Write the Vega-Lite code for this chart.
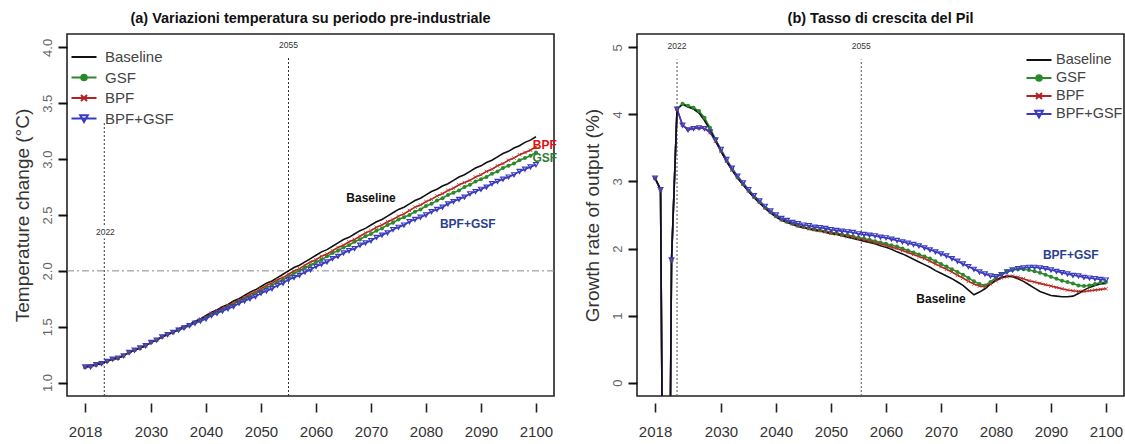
{
  "$schema": "https://vega.github.io/schema/vega-lite/v6.json",
  "padding": {"left": 12, "top": 9, "right": 0, "bottom": 0},
  "spacing": 24,
  "background": "white",
  "config": {
    "view": {"stroke": "#222", "strokeWidth": 1.6},
    "title": {"font": "Liberation Sans, sans-serif", "fontSize": 14.5, "fontWeight": "bold", "color": "#111", "offset": 8, "anchor": "middle"},
    "axisX": {"domain": false, "grid": false, "tickSize": 9, "tickWidth": 1.6, "tickColor": "#222", "offset": 7, "labelFont": "Liberation Sans, sans-serif", "labelFontSize": 15, "labelColor": "#333", "labelPadding": 12, "title": null, "labelFlush": false, "labelOverlap": false},
    "axisY": {"domain": false, "grid": false, "tickSize": 9, "tickWidth": 2, "tickColor": "#111", "labelAngle": -90, "labelFont": "Liberation Sans, sans-serif", "labelFontSize": 13, "labelColor": "#666", "labelPadding": 4, "titleFont": "Liberation Sans, sans-serif", "titleFontSize": 19, "titleFontWeight": "normal", "titleColor": "#333", "titlePadding": 9, "labelFlush": false, "labelOverlap": false}
  },
  "datasets": {
    "temp": [
      {"year":2018,"Baseline":1.14,"GSF":1.14,"BPF":1.14,"BPF+GSF":1.14},
      {"year":2019,"Baseline":1.15,"GSF":1.15,"BPF":1.15,"BPF+GSF":1.14},
      {"year":2020,"Baseline":1.16,"GSF":1.16,"BPF":1.16,"BPF+GSF":1.16},
      {"year":2021,"Baseline":1.17,"GSF":1.17,"BPF":1.17,"BPF+GSF":1.17},
      {"year":2022,"Baseline":1.19,"GSF":1.19,"BPF":1.19,"BPF+GSF":1.19},
      {"year":2023,"Baseline":1.21,"GSF":1.21,"BPF":1.21,"BPF+GSF":1.21},
      {"year":2024,"Baseline":1.22,"GSF":1.22,"BPF":1.22,"BPF+GSF":1.22},
      {"year":2025,"Baseline":1.24,"GSF":1.24,"BPF":1.24,"BPF+GSF":1.24},
      {"year":2026,"Baseline":1.27,"GSF":1.27,"BPF":1.27,"BPF+GSF":1.27},
      {"year":2027,"Baseline":1.29,"GSF":1.29,"BPF":1.29,"BPF+GSF":1.29},
      {"year":2028,"Baseline":1.31,"GSF":1.31,"BPF":1.31,"BPF+GSF":1.31},
      {"year":2029,"Baseline":1.33,"GSF":1.33,"BPF":1.33,"BPF+GSF":1.33},
      {"year":2030,"Baseline":1.36,"GSF":1.36,"BPF":1.36,"BPF+GSF":1.36},
      {"year":2031,"Baseline":1.38,"GSF":1.38,"BPF":1.38,"BPF+GSF":1.38},
      {"year":2032,"Baseline":1.41,"GSF":1.41,"BPF":1.41,"BPF+GSF":1.41},
      {"year":2033,"Baseline":1.43,"GSF":1.43,"BPF":1.43,"BPF+GSF":1.43},
      {"year":2034,"Baseline":1.45,"GSF":1.45,"BPF":1.45,"BPF+GSF":1.45},
      {"year":2035,"Baseline":1.48,"GSF":1.47,"BPF":1.48,"BPF+GSF":1.47},
      {"year":2036,"Baseline":1.50,"GSF":1.49,"BPF":1.50,"BPF+GSF":1.49},
      {"year":2037,"Baseline":1.52,"GSF":1.51,"BPF":1.52,"BPF+GSF":1.51},
      {"year":2038,"Baseline":1.55,"GSF":1.54,"BPF":1.54,"BPF+GSF":1.53},
      {"year":2039,"Baseline":1.57,"GSF":1.56,"BPF":1.57,"BPF+GSF":1.55},
      {"year":2040,"Baseline":1.60,"GSF":1.58,"BPF":1.59,"BPF+GSF":1.57},
      {"year":2041,"Baseline":1.63,"GSF":1.61,"BPF":1.62,"BPF+GSF":1.60},
      {"year":2042,"Baseline":1.65,"GSF":1.63,"BPF":1.64,"BPF+GSF":1.62},
      {"year":2043,"Baseline":1.68,"GSF":1.65,"BPF":1.67,"BPF+GSF":1.64},
      {"year":2044,"Baseline":1.70,"GSF":1.68,"BPF":1.69,"BPF+GSF":1.66},
      {"year":2045,"Baseline":1.73,"GSF":1.70,"BPF":1.71,"BPF+GSF":1.68},
      {"year":2046,"Baseline":1.75,"GSF":1.73,"BPF":1.74,"BPF+GSF":1.71},
      {"year":2047,"Baseline":1.78,"GSF":1.75,"BPF":1.76,"BPF+GSF":1.73},
      {"year":2048,"Baseline":1.81,"GSF":1.77,"BPF":1.79,"BPF+GSF":1.75},
      {"year":2049,"Baseline":1.83,"GSF":1.80,"BPF":1.81,"BPF+GSF":1.77},
      {"year":2050,"Baseline":1.86,"GSF":1.82,"BPF":1.84,"BPF+GSF":1.80},
      {"year":2051,"Baseline":1.89,"GSF":1.85,"BPF":1.87,"BPF+GSF":1.82},
      {"year":2052,"Baseline":1.91,"GSF":1.87,"BPF":1.89,"BPF+GSF":1.84},
      {"year":2053,"Baseline":1.94,"GSF":1.90,"BPF":1.92,"BPF+GSF":1.87},
      {"year":2054,"Baseline":1.97,"GSF":1.92,"BPF":1.94,"BPF+GSF":1.89},
      {"year":2055,"Baseline":2.00,"GSF":1.95,"BPF":1.97,"BPF+GSF":1.92},
      {"year":2056,"Baseline":2.03,"GSF":1.98,"BPF":2.00,"BPF+GSF":1.94},
      {"year":2057,"Baseline":2.05,"GSF":2.00,"BPF":2.02,"BPF+GSF":1.96},
      {"year":2058,"Baseline":2.08,"GSF":2.03,"BPF":2.05,"BPF+GSF":1.99},
      {"year":2059,"Baseline":2.11,"GSF":2.05,"BPF":2.08,"BPF+GSF":2.01},
      {"year":2060,"Baseline":2.14,"GSF":2.08,"BPF":2.10,"BPF+GSF":2.04},
      {"year":2061,"Baseline":2.17,"GSF":2.10,"BPF":2.13,"BPF+GSF":2.06},
      {"year":2062,"Baseline":2.19,"GSF":2.13,"BPF":2.15,"BPF+GSF":2.08},
      {"year":2063,"Baseline":2.22,"GSF":2.16,"BPF":2.18,"BPF+GSF":2.11},
      {"year":2064,"Baseline":2.25,"GSF":2.18,"BPF":2.21,"BPF+GSF":2.13},
      {"year":2065,"Baseline":2.28,"GSF":2.21,"BPF":2.23,"BPF+GSF":2.16},
      {"year":2066,"Baseline":2.30,"GSF":2.23,"BPF":2.26,"BPF+GSF":2.18},
      {"year":2067,"Baseline":2.33,"GSF":2.26,"BPF":2.28,"BPF+GSF":2.20},
      {"year":2068,"Baseline":2.36,"GSF":2.28,"BPF":2.31,"BPF+GSF":2.23},
      {"year":2069,"Baseline":2.38,"GSF":2.31,"BPF":2.34,"BPF+GSF":2.25},
      {"year":2070,"Baseline":2.41,"GSF":2.33,"BPF":2.36,"BPF+GSF":2.27},
      {"year":2071,"Baseline":2.44,"GSF":2.36,"BPF":2.39,"BPF+GSF":2.30},
      {"year":2072,"Baseline":2.46,"GSF":2.38,"BPF":2.41,"BPF+GSF":2.32},
      {"year":2073,"Baseline":2.49,"GSF":2.41,"BPF":2.44,"BPF+GSF":2.34},
      {"year":2074,"Baseline":2.52,"GSF":2.43,"BPF":2.46,"BPF+GSF":2.37},
      {"year":2075,"Baseline":2.55,"GSF":2.46,"BPF":2.49,"BPF+GSF":2.39},
      {"year":2076,"Baseline":2.57,"GSF":2.48,"BPF":2.51,"BPF+GSF":2.41},
      {"year":2077,"Baseline":2.60,"GSF":2.50,"BPF":2.54,"BPF+GSF":2.44},
      {"year":2078,"Baseline":2.63,"GSF":2.53,"BPF":2.57,"BPF+GSF":2.46},
      {"year":2079,"Baseline":2.65,"GSF":2.55,"BPF":2.59,"BPF+GSF":2.48},
      {"year":2080,"Baseline":2.68,"GSF":2.58,"BPF":2.62,"BPF+GSF":2.50},
      {"year":2081,"Baseline":2.71,"GSF":2.60,"BPF":2.64,"BPF+GSF":2.53},
      {"year":2082,"Baseline":2.73,"GSF":2.63,"BPF":2.67,"BPF+GSF":2.55},
      {"year":2083,"Baseline":2.76,"GSF":2.65,"BPF":2.69,"BPF+GSF":2.57},
      {"year":2084,"Baseline":2.78,"GSF":2.68,"BPF":2.72,"BPF+GSF":2.60},
      {"year":2085,"Baseline":2.81,"GSF":2.70,"BPF":2.74,"BPF+GSF":2.62},
      {"year":2086,"Baseline":2.84,"GSF":2.72,"BPF":2.77,"BPF+GSF":2.64},
      {"year":2087,"Baseline":2.86,"GSF":2.75,"BPF":2.79,"BPF+GSF":2.66},
      {"year":2088,"Baseline":2.89,"GSF":2.77,"BPF":2.81,"BPF+GSF":2.69},
      {"year":2089,"Baseline":2.92,"GSF":2.80,"BPF":2.84,"BPF+GSF":2.71},
      {"year":2090,"Baseline":2.94,"GSF":2.82,"BPF":2.86,"BPF+GSF":2.73},
      {"year":2091,"Baseline":2.97,"GSF":2.84,"BPF":2.89,"BPF+GSF":2.75},
      {"year":2092,"Baseline":2.99,"GSF":2.87,"BPF":2.91,"BPF+GSF":2.78},
      {"year":2093,"Baseline":3.02,"GSF":2.89,"BPF":2.94,"BPF+GSF":2.80},
      {"year":2094,"Baseline":3.05,"GSF":2.92,"BPF":2.96,"BPF+GSF":2.82},
      {"year":2095,"Baseline":3.07,"GSF":2.94,"BPF":2.99,"BPF+GSF":2.84},
      {"year":2096,"Baseline":3.10,"GSF":2.96,"BPF":3.01,"BPF+GSF":2.86},
      {"year":2097,"Baseline":3.12,"GSF":2.99,"BPF":3.04,"BPF+GSF":2.89},
      {"year":2098,"Baseline":3.15,"GSF":3.01,"BPF":3.06,"BPF+GSF":2.91},
      {"year":2099,"Baseline":3.17,"GSF":3.03,"BPF":3.08,"BPF+GSF":2.93},
      {"year":2100,"Baseline":3.20,"GSF":3.06,"BPF":3.11,"BPF+GSF":2.95}
    ],
    "gdp": [
      {"year":2018,"Baseline":3.05,"GSF":3.05,"BPF":3.05,"BPF+GSF":3.05},
      {"year":2019,"Baseline":2.88,"GSF":2.88,"BPF":2.88,"BPF+GSF":2.88},
      {"year":2020,"Baseline":-8.9,"GSF":-8.9,"BPF":-8.9,"BPF+GSF":-8.9},
      {"year":2021,"Baseline":1.83,"GSF":1.83,"BPF":1.83,"BPF+GSF":1.83},
      {"year":2022,"Baseline":4.08,"GSF":4.08,"BPF":4.08,"BPF+GSF":4.08},
      {"year":2023,"Baseline":4.15,"GSF":4.16,"BPF":3.84,"BPF+GSF":3.84},
      {"year":2024,"Baseline":4.11,"GSF":4.13,"BPF":3.78,"BPF+GSF":3.77},
      {"year":2025,"Baseline":4.08,"GSF":4.10,"BPF":3.79,"BPF+GSF":3.79},
      {"year":2026,"Baseline":4.02,"GSF":4.05,"BPF":3.80,"BPF+GSF":3.80},
      {"year":2027,"Baseline":3.91,"GSF":3.95,"BPF":3.79,"BPF+GSF":3.79},
      {"year":2028,"Baseline":3.77,"GSF":3.80,"BPF":3.73,"BPF+GSF":3.74},
      {"year":2029,"Baseline":3.61,"GSF":3.63,"BPF":3.60,"BPF+GSF":3.62},
      {"year":2030,"Baseline":3.45,"GSF":3.46,"BPF":3.45,"BPF+GSF":3.48},
      {"year":2031,"Baseline":3.30,"GSF":3.31,"BPF":3.30,"BPF+GSF":3.33},
      {"year":2032,"Baseline":3.17,"GSF":3.18,"BPF":3.17,"BPF+GSF":3.20},
      {"year":2033,"Baseline":3.05,"GSF":3.06,"BPF":3.06,"BPF+GSF":3.08},
      {"year":2034,"Baseline":2.95,"GSF":2.96,"BPF":2.96,"BPF+GSF":2.98},
      {"year":2035,"Baseline":2.85,"GSF":2.86,"BPF":2.86,"BPF+GSF":2.88},
      {"year":2036,"Baseline":2.76,"GSF":2.77,"BPF":2.77,"BPF+GSF":2.79},
      {"year":2037,"Baseline":2.68,"GSF":2.69,"BPF":2.69,"BPF+GSF":2.71},
      {"year":2038,"Baseline":2.60,"GSF":2.61,"BPF":2.61,"BPF+GSF":2.63},
      {"year":2039,"Baseline":2.53,"GSF":2.54,"BPF":2.54,"BPF+GSF":2.56},
      {"year":2040,"Baseline":2.47,"GSF":2.48,"BPF":2.48,"BPF+GSF":2.50},
      {"year":2041,"Baseline":2.42,"GSF":2.43,"BPF":2.43,"BPF+GSF":2.45},
      {"year":2042,"Baseline":2.39,"GSF":2.40,"BPF":2.40,"BPF+GSF":2.42},
      {"year":2043,"Baseline":2.36,"GSF":2.37,"BPF":2.37,"BPF+GSF":2.39},
      {"year":2044,"Baseline":2.33,"GSF":2.34,"BPF":2.34,"BPF+GSF":2.37},
      {"year":2045,"Baseline":2.31,"GSF":2.32,"BPF":2.32,"BPF+GSF":2.35},
      {"year":2046,"Baseline":2.29,"GSF":2.30,"BPF":2.30,"BPF+GSF":2.34},
      {"year":2047,"Baseline":2.27,"GSF":2.29,"BPF":2.28,"BPF+GSF":2.32},
      {"year":2048,"Baseline":2.26,"GSF":2.27,"BPF":2.27,"BPF+GSF":2.31},
      {"year":2049,"Baseline":2.24,"GSF":2.26,"BPF":2.25,"BPF+GSF":2.30},
      {"year":2050,"Baseline":2.22,"GSF":2.24,"BPF":2.23,"BPF+GSF":2.28},
      {"year":2051,"Baseline":2.21,"GSF":2.23,"BPF":2.22,"BPF+GSF":2.27},
      {"year":2052,"Baseline":2.19,"GSF":2.21,"BPF":2.20,"BPF+GSF":2.26},
      {"year":2053,"Baseline":2.17,"GSF":2.20,"BPF":2.18,"BPF+GSF":2.25},
      {"year":2054,"Baseline":2.15,"GSF":2.18,"BPF":2.17,"BPF+GSF":2.24},
      {"year":2055,"Baseline":2.13,"GSF":2.16,"BPF":2.15,"BPF+GSF":2.22},
      {"year":2056,"Baseline":2.11,"GSF":2.15,"BPF":2.13,"BPF+GSF":2.21},
      {"year":2057,"Baseline":2.09,"GSF":2.13,"BPF":2.11,"BPF+GSF":2.20},
      {"year":2058,"Baseline":2.07,"GSF":2.11,"BPF":2.09,"BPF+GSF":2.19},
      {"year":2059,"Baseline":2.04,"GSF":2.09,"BPF":2.07,"BPF+GSF":2.17},
      {"year":2060,"Baseline":2.02,"GSF":2.07,"BPF":2.05,"BPF+GSF":2.16},
      {"year":2061,"Baseline":1.99,"GSF":2.05,"BPF":2.02,"BPF+GSF":2.14},
      {"year":2062,"Baseline":1.95,"GSF":2.03,"BPF":2.00,"BPF+GSF":2.12},
      {"year":2063,"Baseline":1.92,"GSF":2.00,"BPF":1.97,"BPF+GSF":2.10},
      {"year":2064,"Baseline":1.88,"GSF":1.97,"BPF":1.94,"BPF+GSF":2.08},
      {"year":2065,"Baseline":1.84,"GSF":1.94,"BPF":1.91,"BPF+GSF":2.06},
      {"year":2066,"Baseline":1.80,"GSF":1.91,"BPF":1.88,"BPF+GSF":2.04},
      {"year":2067,"Baseline":1.76,"GSF":1.88,"BPF":1.85,"BPF+GSF":2.01},
      {"year":2068,"Baseline":1.72,"GSF":1.85,"BPF":1.81,"BPF+GSF":1.98},
      {"year":2069,"Baseline":1.67,"GSF":1.81,"BPF":1.77,"BPF+GSF":1.95},
      {"year":2070,"Baseline":1.63,"GSF":1.77,"BPF":1.73,"BPF+GSF":1.92},
      {"year":2071,"Baseline":1.59,"GSF":1.73,"BPF":1.69,"BPF+GSF":1.89},
      {"year":2072,"Baseline":1.55,"GSF":1.69,"BPF":1.65,"BPF+GSF":1.85},
      {"year":2073,"Baseline":1.50,"GSF":1.65,"BPF":1.60,"BPF+GSF":1.81},
      {"year":2074,"Baseline":1.45,"GSF":1.61,"BPF":1.56,"BPF+GSF":1.77},
      {"year":2075,"Baseline":1.38,"GSF":1.56,"BPF":1.51,"BPF+GSF":1.73},
      {"year":2076,"Baseline":1.31,"GSF":1.51,"BPF":1.47,"BPF+GSF":1.69},
      {"year":2077,"Baseline":1.35,"GSF":1.47,"BPF":1.44,"BPF+GSF":1.65},
      {"year":2078,"Baseline":1.40,"GSF":1.45,"BPF":1.43,"BPF+GSF":1.62},
      {"year":2079,"Baseline":1.47,"GSF":1.50,"BPF":1.47,"BPF+GSF":1.59},
      {"year":2080,"Baseline":1.53,"GSF":1.57,"BPF":1.52,"BPF+GSF":1.58},
      {"year":2081,"Baseline":1.57,"GSF":1.62,"BPF":1.56,"BPF+GSF":1.61},
      {"year":2082,"Baseline":1.59,"GSF":1.66,"BPF":1.58,"BPF+GSF":1.65},
      {"year":2083,"Baseline":1.58,"GSF":1.68,"BPF":1.59,"BPF+GSF":1.68},
      {"year":2084,"Baseline":1.55,"GSF":1.69,"BPF":1.57,"BPF+GSF":1.70},
      {"year":2085,"Baseline":1.51,"GSF":1.69,"BPF":1.55,"BPF+GSF":1.71},
      {"year":2086,"Baseline":1.46,"GSF":1.68,"BPF":1.52,"BPF+GSF":1.72},
      {"year":2087,"Baseline":1.41,"GSF":1.66,"BPF":1.50,"BPF+GSF":1.72},
      {"year":2088,"Baseline":1.36,"GSF":1.64,"BPF":1.48,"BPF+GSF":1.71},
      {"year":2089,"Baseline":1.33,"GSF":1.61,"BPF":1.46,"BPF+GSF":1.70},
      {"year":2090,"Baseline":1.30,"GSF":1.58,"BPF":1.44,"BPF+GSF":1.68},
      {"year":2091,"Baseline":1.29,"GSF":1.55,"BPF":1.42,"BPF+GSF":1.66},
      {"year":2092,"Baseline":1.28,"GSF":1.52,"BPF":1.40,"BPF+GSF":1.64},
      {"year":2093,"Baseline":1.28,"GSF":1.50,"BPF":1.38,"BPF+GSF":1.62},
      {"year":2094,"Baseline":1.29,"GSF":1.48,"BPF":1.37,"BPF+GSF":1.60},
      {"year":2095,"Baseline":1.33,"GSF":1.45,"BPF":1.36,"BPF+GSF":1.59},
      {"year":2096,"Baseline":1.38,"GSF":1.44,"BPF":1.36,"BPF+GSF":1.57},
      {"year":2097,"Baseline":1.42,"GSF":1.45,"BPF":1.37,"BPF+GSF":1.56},
      {"year":2098,"Baseline":1.45,"GSF":1.47,"BPF":1.38,"BPF+GSF":1.55},
      {"year":2099,"Baseline":1.47,"GSF":1.49,"BPF":1.39,"BPF+GSF":1.54},
      {"year":2100,"Baseline":1.48,"GSF":1.50,"BPF":1.40,"BPF+GSF":1.53}
    ]
  },
  "resolve": {"scale": {"color": "independent"}, "legend": {"color": "independent"}},
  "hconcat": [
    {
      "width": 487,
      "height": 362,
      "title": {"text": "(a) Variazioni temperatura su periodo pre-industriale"},
      "encoding": {
        "x": {"type": "quantitative", "scale": {"domain": [2014.72, 2103.28], "nice": false, "zero": false}, "axis": {"values": [2018, 2030, 2040, 2050, 2060, 2070, 2080, 2090, 2100], "format": "d"}},
        "y": {"type": "quantitative", "scale": {"domain": [0.88, 4.12], "nice": false, "zero": false}, "axis": {"values": [1, 1.5, 2, 2.5, 3, 3.5, 4], "format": ".1f", "title": "Temperature change (°C)"}}
      },
      "layer": [
        {
          "data": {"values": [{"v": 2}]},
          "mark": {"type": "rule", "color": "#888", "strokeWidth": 1, "strokeDash": [7, 3, 2, 3]},
          "encoding": {"x": null, "y": {"field": "v", "type": "quantitative"}}
        },
        {
          "data": {"values": [{"x": 2021.5, "y1": 0.88, "y2": 2.29}, {"x": 2021.5, "y1": 2.41, "y2": 3.34}, {"x": 2055, "y1": 0.88, "y2": 3.91}]},
          "mark": {"type": "rule", "color": "#333", "strokeWidth": 1, "strokeDash": [2, 2]},
          "encoding": {"x": {"field": "x", "type": "quantitative"}, "y": {"field": "y1", "type": "quantitative"}, "y2": {"field": "y2"}}
        },
        {
          "data": {"values": [{"x": 2021.7, "y": 2.35, "t": "2022"}, {"x": 2055, "y": 4.02, "t": "2055"}]},
          "mark": {"type": "text", "font": "Liberation Sans, sans-serif", "fontSize": 8.5, "color": "#333"},
          "encoding": {"x": {"field": "x", "type": "quantitative"}, "y": {"field": "y", "type": "quantitative"}, "text": {"field": "t"}}
        },
        {
          "data": {"name": "temp"},
          "transform": [{"fold": ["GSF", "BPF", "BPF+GSF", "Baseline"], "as": ["series", "value"]}],
          "mark": {"type": "line", "strokeWidth": 1.6, "clip": true},
          "encoding": {
            "x": {"field": "year", "type": "quantitative"},
            "y": {"field": "value", "type": "quantitative"},
            "color": {
              "field": "series", "type": "nominal",
              "scale": {"domain": ["Baseline", "GSF", "BPF", "BPF+GSF"], "range": ["#111111", "#2a8a2a", "#b22222", "#3a3ac0"]},
              "legend": {
                "orient": "none", "legendX": 6, "legendY": 12, "title": null, "padding": 0,
                "symbolSize": 400, "symbolStrokeWidth": 2, "rowPadding": 1.5, "labelOffset": 10,
                "labelFont": "Liberation Sans, sans-serif", "labelFontSize": 15, "labelColor": "#444",
                "encode": {"symbols": {"update": {
                  "shape": {"signal": "datum.value === 'Baseline' ? 'M-1.25,0H1.25' : datum.value === 'GSF' ? 'M-1.25,0H1.25M0.28,0A0.28,0.28 0 1,1 -0.28,0A0.28,0.28 0 1,1 0.28,0Z' : datum.value === 'BPF' ? 'M-1.25,0H1.25M-0.3,-0.3L0.3,0.3M-0.3,0.3L0.3,-0.3' : 'M-1.25,0H1.25M-0.38,-0.32H0.38L0,0.34Z'"},
                  "fill": {"signal": "datum.value === 'GSF' ? '#2a8a2a' : 'transparent'"}
                }}}
              }
            }
          }
        },
        {
          "data": {"name": "temp"},
          "mark": {"type": "point", "shape": "circle", "filled": true, "color": "#2a8a2a", "size": 16, "opacity": 1, "clip": true},
          "encoding": {"x": {"field": "year", "type": "quantitative"}, "y": {"field": "GSF", "type": "quantitative"}}
        },
        {
          "data": {"name": "temp"},
          "mark": {"type": "point", "shape": "M-1,-1L1,1M-1,1L1,-1", "filled": false, "color": "#c0392b", "size": 12, "strokeWidth": 1, "opacity": 0.9, "clip": true},
          "encoding": {"x": {"field": "year", "type": "quantitative"}, "y": {"field": "BPF", "type": "quantitative"}}
        },
        {
          "data": {"name": "temp"},
          "mark": {"type": "point", "shape": "triangle-down", "filled": false, "color": "#3a3ac0", "size": 22, "strokeWidth": 1.2, "opacity": 1, "clip": true},
          "encoding": {"x": {"field": "year", "type": "quantitative"}, "y": {"field": "BPF+GSF", "type": "quantitative"}}
        },
        {
          "data": {"values": [{"x": 2070, "y": 2.65, "t": "Baseline", "c": "#111111"}, {"x": 2087.6, "y": 2.42, "t": "BPF+GSF", "c": "#2a3f8f"}, {"x": 2101.6, "y": 3.13, "t": "BPF", "c": "#e01010"}, {"x": 2101.6, "y": 3.01, "t": "GSF", "c": "#2e7d32"}]},
          "mark": {"type": "text", "font": "Liberation Sans, sans-serif", "fontSize": 12, "fontWeight": "bold"},
          "encoding": {"x": {"field": "x", "type": "quantitative"}, "y": {"field": "y", "type": "quantitative"}, "text": {"field": "t"}, "color": {"field": "c", "type": "nominal", "scale": null}}
        }
      ]
    },
    {
      "width": 487,
      "height": 362,
      "title": {"text": "(b) Tasso di crescita del Pil"},
      "encoding": {
        "x": {"type": "quantitative", "scale": {"domain": [2014.72, 2103.28], "nice": false, "zero": false}, "axis": {"values": [2018, 2030, 2040, 2050, 2060, 2070, 2080, 2090, 2100], "format": "d"}},
        "y": {"type": "quantitative", "scale": {"domain": [-0.2, 5.2], "nice": false, "zero": false}, "axis": {"values": [0, 1, 2, 3, 4, 5], "format": "d", "title": "Growth rate of output (%)"}}
      },
      "layer": [
        {
          "data": {"values": [{"x": 2022, "y1": -0.2, "y2": 4.82}, {"x": 2055.5, "y1": -0.2, "y2": 4.82}]},
          "mark": {"type": "rule", "color": "#555", "strokeWidth": 1, "strokeDash": [2, 2]},
          "encoding": {"x": {"field": "x", "type": "quantitative"}, "y": {"field": "y1", "type": "quantitative"}, "y2": {"field": "y2"}}
        },
        {
          "data": {"values": [{"x": 2022, "y": 5.02, "t": "2022"}, {"x": 2055.5, "y": 5.02, "t": "2055"}]},
          "mark": {"type": "text", "font": "Liberation Sans, sans-serif", "fontSize": 8.5, "color": "#333"},
          "encoding": {"x": {"field": "x", "type": "quantitative"}, "y": {"field": "y", "type": "quantitative"}, "text": {"field": "t"}}
        },
        {
          "data": {"name": "gdp"},
          "transform": [{"fold": ["GSF", "BPF", "BPF+GSF", "Baseline"], "as": ["series", "value"]}],
          "mark": {"type": "line", "strokeWidth": 1.6, "clip": true},
          "encoding": {
            "x": {"field": "year", "type": "quantitative"},
            "y": {"field": "value", "type": "quantitative"},
            "color": {
              "field": "series", "type": "nominal",
              "scale": {"domain": ["Baseline", "GSF", "BPF", "BPF+GSF"], "range": ["#111111", "#2a8a2a", "#b22222", "#3a3ac0"]},
              "legend": {
                "orient": "none", "legendX": 391, "legendY": 15, "title": null, "padding": 0,
                "symbolSize": 400, "symbolStrokeWidth": 2, "rowPadding": 0, "labelOffset": 6,
                "labelFont": "Liberation Sans, sans-serif", "labelFontSize": 14.5, "labelColor": "#444",
                "encode": {"symbols": {"update": {
                  "shape": {"signal": "datum.value === 'Baseline' ? 'M-1.25,0H1.25' : datum.value === 'GSF' ? 'M-1.25,0H1.25M0.28,0A0.28,0.28 0 1,1 -0.28,0A0.28,0.28 0 1,1 0.28,0Z' : datum.value === 'BPF' ? 'M-1.25,0H1.25M-0.3,-0.3L0.3,0.3M-0.3,0.3L0.3,-0.3' : 'M-1.25,0H1.25M-0.38,-0.32H0.38L0,0.34Z'"},
                  "fill": {"signal": "datum.value === 'GSF' ? '#2a8a2a' : 'transparent'"}
                }}}
              }
            }
          }
        },
        {
          "data": {"name": "gdp"},
          "mark": {"type": "point", "shape": "circle", "filled": true, "color": "#2a8a2a", "size": 16, "opacity": 1, "clip": true},
          "encoding": {"x": {"field": "year", "type": "quantitative"}, "y": {"field": "GSF", "type": "quantitative"}}
        },
        {
          "data": {"name": "gdp"},
          "mark": {"type": "point", "shape": "M-1,-1L1,1M-1,1L1,-1", "filled": false, "color": "#c0392b", "size": 12, "strokeWidth": 1, "opacity": 0.9, "clip": true},
          "encoding": {"x": {"field": "year", "type": "quantitative"}, "y": {"field": "BPF", "type": "quantitative"}}
        },
        {
          "data": {"name": "gdp"},
          "mark": {"type": "point", "shape": "triangle-down", "filled": false, "color": "#3a3ac0", "size": 22, "strokeWidth": 1.2, "opacity": 1, "clip": true},
          "encoding": {"x": {"field": "year", "type": "quantitative"}, "y": {"field": "BPF+GSF", "type": "quantitative"}}
        },
        {
          "data": {"values": [{"x": 2070, "y": 1.25, "t": "Baseline", "c": "#111111"}, {"x": 2093.6, "y": 1.91, "t": "BPF+GSF", "c": "#2a3f8f"}]},
          "mark": {"type": "text", "font": "Liberation Sans, sans-serif", "fontSize": 12, "fontWeight": "bold"},
          "encoding": {"x": {"field": "x", "type": "quantitative"}, "y": {"field": "y", "type": "quantitative"}, "text": {"field": "t"}, "color": {"field": "c", "type": "nominal", "scale": null}}
        }
      ]
    }
  ]
}
